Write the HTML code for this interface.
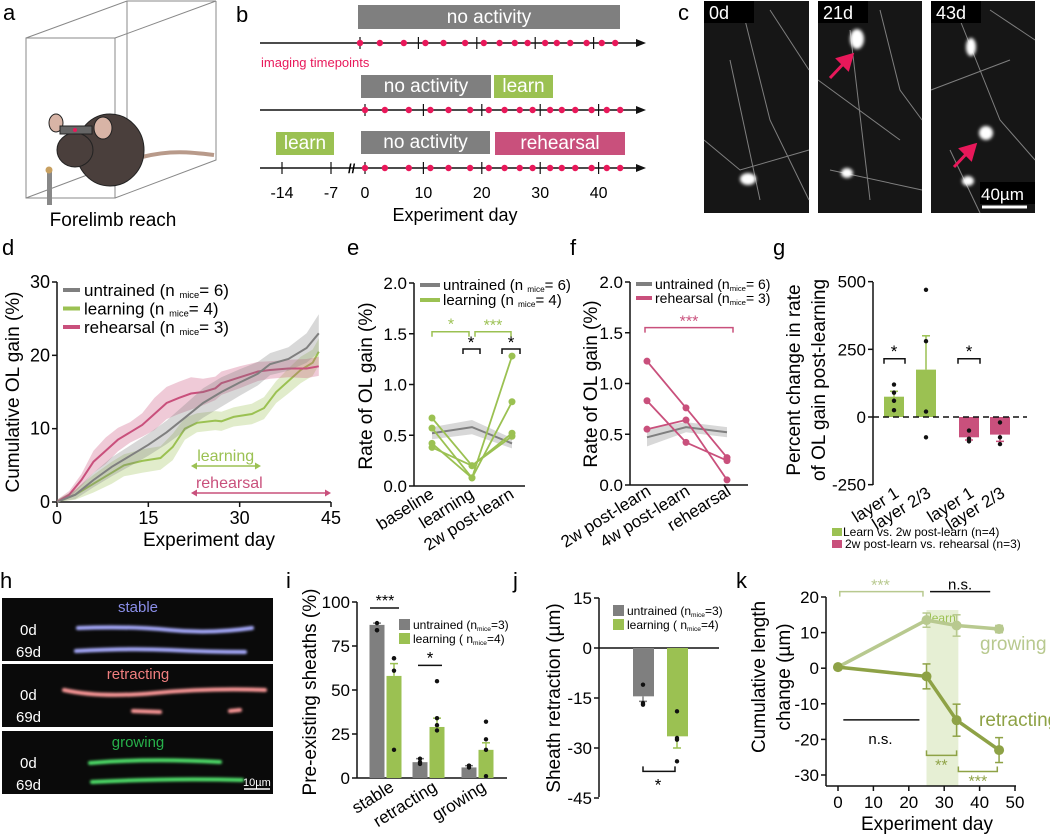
<!DOCTYPE html>
<html><head><meta charset="utf-8"><style>
html,body{margin:0;padding:0;background:#fff;}
svg{display:block;font-family:"Liberation Sans",sans-serif;}
</style></head><body>
<svg id="fig" width="1050" height="835" viewBox="0 0 1050 835" xmlns="http://www.w3.org/2000/svg">
<defs>
<filter id="glow" x="-20%" y="-50%" width="140%" height="200%"><feGaussianBlur stdDeviation="1.2"/></filter>
<filter id="soft" x="-50%" y="-50%" width="200%" height="200%"><feGaussianBlur stdDeviation="1.5"/></filter>
</defs>
<!-- panel a -->
<g>
<text x="3" y="20" font-size="22">a</text>
<g fill="none" stroke="#888" stroke-width="1">
<rect x="26" y="38" width="89" height="160"/>
<polyline points="26,38 127,1 216,1 115,38"/>
<line x1="127" y1="1" x2="127" y2="160"/>
<polyline points="216,1 216,160 115,198"/>
<line x1="26" y1="198" x2="127" y2="160"/>
</g>
<path d="M142,157 C170,150 190,152 214,155" stroke="#b89a8a" stroke-width="4" fill="none"/>
<ellipse cx="110" cy="150" rx="34" ry="36" fill="#4a3f3c" stroke="#222"/>
<ellipse cx="75" cy="150" rx="18" ry="17" fill="#4a3f3c" stroke="#222"/>
<ellipse cx="56" cy="123" rx="7" ry="9" fill="#d8b4a6" stroke="#222"/>
<ellipse cx="103" cy="128" rx="9" ry="11" fill="#d8b4a6" stroke="#222"/>
<rect x="60" y="126" width="32" height="8" fill="#666" stroke="#222"/>
<circle cx="75" cy="130" r="2" fill="#e8185a"/>
<rect x="47" y="171" width="5" height="34" fill="#888"/>
<circle cx="49" cy="170" r="3.5" fill="#c8a060"/>
<text x="113" y="226" font-size="19" text-anchor="middle">Forelimb reach</text>
</g>
<!-- panel c -->
<g>
<text x="678" y="20" font-size="22">c</text>
<rect x="704" y="1" width="105" height="212" fill="#161616"/>
<rect x="818" y="1" width="104" height="212" fill="#161616"/>
<rect x="931" y="1" width="104" height="212" fill="#161616"/>
<g stroke="#9a9a9a" stroke-width="1" fill="none" opacity="0.8">
<path d="M745,20 L770,120 L809,200"/><path d="M704,140 L740,170 L809,150"/><path d="M730,60 L760,200"/><path d="M770,10 L809,70"/>
<path d="M850,30 L870,200"/><path d="M818,80 L900,140"/><path d="M880,10 L900,90 L922,120"/><path d="M830,170 L922,190"/>
<path d="M960,20 L1000,120 L1035,160"/><path d="M931,90 L1010,60"/><path d="M950,150 L980,213"/><path d="M990,10 L1035,40"/>
</g>
<g fill="#fff" filter="url(#soft)">
<ellipse cx="748" cy="179" rx="8" ry="6"/>
<ellipse cx="857" cy="39" rx="7" ry="10"/>
<ellipse cx="847" cy="173" rx="6" ry="5"/>
<ellipse cx="971" cy="47" rx="5" ry="9"/>
<ellipse cx="986" cy="133" rx="7" ry="7"/>
<ellipse cx="968" cy="181" rx="6" ry="5"/>
</g>
<rect x="704" y="1" width="50" height="22" fill="#000"/>
<text x="709" y="19" font-size="18" fill="#fff">0d</text>
<rect x="818" y="1" width="50" height="22" fill="#000"/>
<text x="823" y="19" font-size="18" fill="#fff">21d</text>
<rect x="931" y="1" width="50" height="22" fill="#000"/>
<text x="936" y="19" font-size="18" fill="#fff">43d</text>
<g stroke="#e8185a" stroke-width="3" fill="#e8185a">
<line x1="830" y1="78" x2="847" y2="60"/>
<polygon points="852,55 838,59 848,69"/>
<line x1="954" y1="167" x2="970" y2="150"/>
<polygon points="975,145 961,149 971,159"/>
</g>
<rect x="980" y="182" width="55" height="22" fill="#000"/>
<text x="981" y="200" font-size="17" fill="#fff">40µm</text>
<line x1="982" y1="207" x2="1027" y2="207" stroke="#fff" stroke-width="3"/>
</g>
<!-- panel h -->
<g>
<text x="0" y="588" font-size="22">h</text>
<rect x="2" y="598" width="271" height="63" fill="#0a0a0a"/>
<rect x="2" y="664" width="271" height="63" fill="#0a0a0a"/>
<rect x="2" y="731" width="271" height="63" fill="#0a0a0a"/>
<text x="138" y="612" font-size="15" fill="#8a8ee8" text-anchor="middle">stable</text>
<text x="138" y="679" font-size="15" fill="#f07f7f" text-anchor="middle">retracting</text>
<text x="138" y="747" font-size="15" fill="#27b04a" text-anchor="middle">growing</text>
<g font-size="15" fill="#fff">
<text x="20" y="635">0d</text><text x="16" y="657">69d</text>
<text x="20" y="700">0d</text><text x="16" y="722">69d</text>
<text x="20" y="768">0d</text><text x="16" y="790">69d</text>
</g>
<g fill="none" stroke-width="4" stroke-linecap="round" filter="url(#glow)">
<path d="M78,628 Q130,626 170,630 T252,628" stroke="#a8acff"/>
<path d="M76,651 Q130,648 170,650 T245,652" stroke="#a8acff"/>
<path d="M64,690 Q100,698 155,693 T265,690" stroke="#ff9a9a"/>
<path d="M133,711 L160,712" stroke="#ff9a9a"/>
<path d="M230,711 L240,710" stroke="#ff9a9a"/>
<path d="M90,763 Q150,758 220,762" stroke="#4fe06a"/>
<path d="M92,782 Q170,778 242,780" stroke="#4fe06a"/>
</g>
<text x="243" y="786" font-size="11" fill="#fff">10µm</text>
<line x1="244" y1="789" x2="270" y2="789" stroke="#fff" stroke-width="1.5"/>
</g>
</svg>
<script>
const NS="http://www.w3.org/2000/svg";
const svg=document.getElementById('fig');
// ---------- data ----------
const bDots=[0,3.4,7.5,11.2,14.3,18,21.2,23.9,26.5,28.7,31.7,33.7,36,38.8,41.4,43.7];
const bTickDays=[0,10,20,30,40];
const bPreDays=[-14,-7];
const dGrayDays=[0,3,6,9,12,15,18,21,24,27,30,33,35,38,41,43];
const dGray=[0,1,3,4.8,6.3,7.8,9.5,11.5,13.5,15,16.3,17.5,18.8,19.5,21,23];
const dGrayErr=[0.3,0.6,1,1.3,1.4,1.5,1.6,1.8,2,2,1.8,1.6,1.5,1.6,2,2.6];
const dGreenDays=[0,3,6,9,11,14,17,19,21,23,26,27,29,32,34,36,38,40,42,43];
const dGreen=[0,1,2.5,4,5,5.6,6,7.5,10,10.8,11.1,11,11.6,12,12.8,15,16.5,18,19,20.5];
const dGreenErr=[0.3,0.7,1.2,1.5,1.5,1.6,1.6,1.8,1.5,1.3,1.3,1.3,1.3,1.4,1.5,1.5,1.7,1.8,1.8,1.8];
const dPinkDays=[0,2,4,6,8,10,12,14,16,18,20,22,24,26,27,30,33,35,38,41,43];
const dPink=[0,1,3,5.5,7,8.5,9.5,10.5,12,13.5,14.2,14.8,15,15.5,16.2,17,17.8,18,18.2,18.2,18.5];
const dPinkErr=[0.3,0.5,0.8,1.5,1.8,1.6,1.4,1.6,2.2,2.2,2.2,2.2,1.8,1.6,1.6,1.5,1.3,1.2,1.2,1.3,1.3];
const dTicksX=[0,15,30,45];
const dTicksY=[0,10,20,30];
const eCats=['baseline','learning','2w post-learn'];
const eGray=[0.52,0.58,0.42];
const eGrayErr=[0.06,0.07,0.05];
const eMice=[[0.67,0.20,0.49],[0.57,0.08,1.28],[0.42,0.08,0.83],[0.38,0.20,0.52]];
const eTicksY=[0,0.5,1.0,1.5,2.0];
const fCats=['2w post-learn','4w post-learn','rehearsal'];
const fGray=[0.47,0.57,0.52];
const fGrayErr=[0.09,0.05,0.05];
const fMice=[[1.22,0.76,0.27],[0.83,0.42,0.24],[0.55,0.64,0.05]];
const gCats=['layer 1','layer 2/3','layer 1','layer 2/3'];
const gMeans=[75,175,-75,-65];
const gErr=[20,125,10,25];
const gDots=[[120,90,60,25],[470,280,20,-75],[-50,-80,-90],[-20,-75,-100]];
const gTicksY=[-250,0,250,500];
const iCats=['stable','retracting','growing'];
const iGray=[87,9,6];
const iGrayErr=[1,2,1];
const iGreen=[58,29,16];
const iGreenErr=[7,5,4];
const iGrayDots=[[88,84,84],[11,9,8],[7,7,6]];
const iGreenDots=[[68,68,61,16],[55,34,30,27],[32,22,16,1]];
const iTicksY=[0,25,50,75,100];
const jMeans=[-14.5,-26.5];
const jErr=[1.5,3.5];
const jGrayDots=[-11,-16.5,-17];
const jGreenDots=[-19,-27,-27.5,-34];
const jTicksY=[-45,-30,-15,0,15];
const kDays=[0,25,33.5,45.5];
const kGrow=[0.3,13.5,12,11];
const kGrowErr=[0.5,2,3,1];
const kRetr=[0.3,-2.3,-14.6,-23];
const kRetrErr=[0.5,3.5,4.5,3.5];
const kTicksX=[0,10,20,30,40,50];
const kTicksY=[-30,-20,-10,0,10,20];

const GRAY='#7f7f7f', GREEN='#9bc152', PINK='#c9507c', DOT='#e8185a', KG='#b8c98f', KR='#8ea246';

function add(tag,attrs,name,parent){
  const el=document.createElementNS(NS,tag);
  for(const k in attrs) el.setAttribute(k,attrs[k]);
  
  
  (parent||svg).appendChild(el);
  return el;
}
function line(x1,y1,x2,y2,stroke,w,name,extra){
  const a={x1,y1,x2,y2,stroke,'stroke-width':w};
  if(extra) for(const k in extra) a[k]=extra[k];
  return add('line',a,name);
}
function txt(x,y,s,size,name,opts){
  const a={x,y,'font-size':size};
  if(opts) for(const k in opts) a[k]=opts[k];
  const t=add('text',a,name);
  t.textContent=s;
  return t;
}
function rich(x,y,parts,size,name,opts){
  const a={x,y,'font-size':size};
  if(opts) for(const k in opts) a[k]=opts[k];
  const t=add('text',a,name);
  parts.forEach(p=>{
    const s=document.createElementNS(NS,'tspan');
    s.textContent=p[0];
    if(p[1]){s.setAttribute('font-size',size*0.55);s.setAttribute('dy','2');}
    else if(p[2]){s.setAttribute('dy','-2');}
    t.appendChild(s);
  });
  return t;
}
function path(pts){return pts.map((p,i)=>(i?'L':'M')+p[0].toFixed(1)+','+p[1].toFixed(1)).join(' ');}
function bracket(x1,x2,y,col,dir,name){
  const d=dir||1;
  add('path',{d:`M${x1},${y+5*d} L${x1},${y} L${x2},${y} L${x2},${y+5*d}`,fill:'none',stroke:col,'stroke-width':1.5},name);
}
function errbar(x,y0,y1,col,name){
  line(x,y0,x,y1,col,1.5,name);
  line(x-4,y1,x+4,y1,col,1.5,name+'-cap');
}

// ---------- panel b ----------
txt(236,22,'b',22,'panel-label-b');
const bRows=[{y:43,x0:360},{y:110,x0:365},{y:168,x0:365}];
const bScale=5.84;
bRows.forEach((r,ri)=>{
  line(260,r.y,640,r.y,'#111',1.5,'timeline-'+(ri+1));
  add('polygon',{points:`646,${r.y} 636,${r.y-4} 636,${r.y+4}`,fill:'#111'},'timeline-arrow-'+(ri+1));
  bTickDays.forEach(d=>line(r.x0+d*bScale,r.y-6,r.x0+d*bScale,r.y+6,'#111',1.2,'timeline-tick'));
  bDots.forEach(d=>add('circle',{cx:r.x0+d*bScale,cy:r.y,r:3.2,fill:DOT},'imaging-timepoint'));
});
bPreDays.forEach(d=>line(365+(d<-10?-83:-34),168-6,365+(d<-10?-83:-34),168+6,'#111',1.2,'timeline-pre-tick'));
txt(348,173,'//',13,'timeline-break',{'font-weight':'bold'});
function bbox(x,y,w,h,fill,label,name){
  add('rect',{x,y,width:w,height:h,fill},name);
  txt(x+w/2,y+h-6,label,19,name+'-label',{'text-anchor':'middle',fill:'#fff'});
}
bbox(358,5,262,24,GRAY,'no activity','no-activity-box-1');
bbox(361,75,130,23,GRAY,'no activity','no-activity-box-2');
bbox(494,75,59,23,GREEN,'learn','learn-box-2');
bbox(276,132,58,23,GREEN,'learn','learn-box-3');
bbox(361,131,129,23,GRAY,'no activity','no-activity-box-3');
bbox(495,132,130,23,PINK,'rehearsal','rehearsal-box-3');
txt(261,67,'imaging timepoints',13,'imaging-timepoints-label',{fill:DOT});
[[-14,282],[-7,331]].concat(bTickDays.map(d=>[d,365+d*bScale])).forEach(p=>txt(p[1],198,String(p[0]),16,'timeline-tick-label',{'text-anchor':'middle'}));
txt(455,221,'Experiment day',18,'timeline-x-title',{'text-anchor':'middle'});

// ---------- panel d ----------
txt(2,255,'d',22,'panel-label-d');
const xd=v=>57+v/45*274, yd=v=>502-v/30*220;
line(57,282,57,502,'#111',1.5,'d-y-axis');
line(57,502,331,502,'#111',1.5,'d-x-axis');
dTicksY.forEach(v=>{line(52,yd(v),57,yd(v),'#111',1.5,'d-y-tick');txt(50,yd(v)+6,String(v),18,'d-y-tick-label',{'text-anchor':'end'});});
dTicksX.forEach(v=>{line(xd(v),502,xd(v),507,'#111',1.5,'d-x-tick');txt(xd(v),524,String(v),18,'d-x-tick-label',{'text-anchor':'middle'});});
txt(0,0,'Cumulative OL gain (%)',19,'d-y-title',{'text-anchor':'middle',transform:'translate(19,392) rotate(-90)'});
txt(209,546,'Experiment day',19,'d-x-title',{'text-anchor':'middle'});
function series(days,vals,errs,col,name){
  const up=days.map((d,i)=>[xd(d),yd(vals[i]+errs[i])]);
  const lo=days.map((d,i)=>[xd(d),yd(Math.max(0,vals[i]-errs[i]))]).reverse();
  add('path',{d:path(up.concat(lo))+'Z',fill:col,opacity:0.3},name+'-band');
  add('path',{d:path(days.map((d,i)=>[xd(d),yd(vals[i])])),fill:'none',stroke:col,'stroke-width':2},name+'-line');
}
series(dGreenDays,dGreen,dGreenErr,GREEN,'d-learning');
series(dPinkDays,dPink,dPinkErr,PINK,'d-rehearsal');
series(dGrayDays,dGray,dGrayErr,GRAY,'d-untrained');
[['untrained (n ','6',GRAY],['learning (n ','4',GREEN],['rehearsal (n ','3',PINK]].forEach((l,i)=>{
  const y=290+i*18.5;
  line(63,y,80,y,l[2],4,'d-legend-swatch');
  rich(84,y+6,[[l[0]],['mice',1],['= '+l[1]+')',0,1]],17,'d-legend-entry');
});
function harrow(x1,x2,y,col,name){
  line(x1+3,y,x2-3,y,col,1.5,name);
  add('polygon',{points:`${x1},${y} ${x1+6},${y-3.5} ${x1+6},${y+3.5}`,fill:col},name+'-head-left');
  add('polygon',{points:`${x2},${y} ${x2-6},${y-3.5} ${x2-6},${y+3.5}`,fill:col},name+'-head-right');
}
harrow(xd(22),xd(33.5),466,GREEN,'d-learning-arrow');
txt(xd(27.7),461,'learning',16,'d-learning-label',{'text-anchor':'middle',fill:GREEN});
harrow(xd(22),xd(45),493,PINK,'d-rehearsal-arrow');
txt(xd(28.3),488,'rehearsal',16,'d-rehearsal-label',{'text-anchor':'middle',fill:PINK});

// ---------- panel e ----------
txt(347,255,'e',22,'panel-label-e');
const eX=[432,472,512], ye=v=>486-v/2*203;
line(414,283,414,486,'#111',1.5,'e-y-axis');
line(414,486,525,486,'#111',1.5,'e-x-axis');
eTicksY.forEach(v=>{line(409,ye(v),414,ye(v),'#111',1.5,'e-y-tick');txt(407,ye(v)+6,v.toFixed(1),17,'e-y-tick-label',{'text-anchor':'end'});});
eCats.forEach((c,i)=>txt(0,0,c,17,'e-x-tick-label',{'text-anchor':'end',transform:`translate(${eX[i]+3},${497}) rotate(-32)`}));
txt(0,0,'Rate of OL gain (%)',19,'e-y-title',{'text-anchor':'middle',transform:'translate(372,386) rotate(-90)'});
add('path',{d:path(eX.map((x,i)=>[x,ye(eGray[i]+eGrayErr[i])]).concat(eX.map((x,i)=>[x,ye(eGray[i]-eGrayErr[i])]).reverse()))+'Z',fill:GRAY,opacity:0.3},'e-untrained-band');
add('path',{d:path(eX.map((x,i)=>[x,ye(eGray[i])])),fill:'none',stroke:GRAY,'stroke-width':2},'e-untrained-line');
eMice.forEach(m=>{
  add('path',{d:path(eX.map((x,i)=>[x,ye(m[i])])),fill:'none',stroke:GREEN,'stroke-width':1.8},'e-mouse-line');
  m.forEach((v,i)=>add('circle',{cx:eX[i],cy:ye(v),r:3.5,fill:GREEN},'e-mouse-point'));
});
bracket(432,469,ye(1.52),GREEN,1,'e-sig-bracket-1');
txt(451,ye(1.52)-2,'*',16,'e-sig-1',{'text-anchor':'middle',fill:GREEN});
bracket(475,511,ye(1.52),GREEN,1,'e-sig-bracket-2');
txt(493,ye(1.52)-1,'***',16,'e-sig-2',{'text-anchor':'middle',fill:GREEN});
bracket(463,480,ye(1.35),'#111',1,'e-sig-bracket-3');
txt(471,ye(1.35)-1,'*',17,'e-sig-3',{'text-anchor':'middle'});
bracket(502,520,ye(1.35),'#111',1,'e-sig-bracket-4');
txt(511,ye(1.35)-1,'*',17,'e-sig-4',{'text-anchor':'middle'});
[['untrained (n ','6',GRAY],['learning (n ','4',GREEN]].forEach((l,i)=>{
  const y=285+i*15;
  line(420,y,440,y,l[2],4,'e-legend-swatch');
  rich(443,y+5,[[l[0]],['mice',1],['= '+l[1]+')',0,1]],15,'e-legend-entry');
});

// ---------- panel f ----------
txt(570,255,'f',22,'panel-label-f');
const fX=[647,686,727], yf=v=>485-v/2*203;
line(630,282,630,485,'#111',1.5,'f-y-axis');
line(630,485,748,485,'#111',1.5,'f-x-axis');
eTicksY.forEach(v=>{line(625,yf(v),630,yf(v),'#111',1.5,'f-y-tick');txt(623,yf(v)+6,v.toFixed(1),17,'f-y-tick-label',{'text-anchor':'end'});});
fCats.forEach((c,i)=>txt(0,0,c,17,'f-x-tick-label',{'text-anchor':'end',transform:`translate(${fX[i]+5},${494}) rotate(-32)`}));
txt(0,0,'Rate of OL gain (%)',19,'f-y-title',{'text-anchor':'middle',transform:'translate(597,384) rotate(-90)'});
add('path',{d:path(fX.map((x,i)=>[x,yf(fGray[i]+fGrayErr[i])]).concat(fX.map((x,i)=>[x,yf(fGray[i]-fGrayErr[i])]).reverse()))+'Z',fill:GRAY,opacity:0.3},'f-untrained-band');
add('path',{d:path(fX.map((x,i)=>[x,yf(fGray[i])])),fill:'none',stroke:GRAY,'stroke-width':2},'f-untrained-line');
fMice.forEach(m=>{
  add('path',{d:path(fX.map((x,i)=>[x,yf(m[i])])),fill:'none',stroke:PINK,'stroke-width':1.8},'f-mouse-line');
  m.forEach((v,i)=>add('circle',{cx:fX[i],cy:yf(v),r:3.5,fill:PINK},'f-mouse-point'));
});
bracket(645,733,yf(1.55),PINK,1,'f-sig-bracket');
txt(689,yf(1.55)-1,'***',16,'f-sig',{'text-anchor':'middle',fill:PINK});
[['untrained (n','6',GRAY],['rehearsal (n','3',PINK]].forEach((l,i)=>{
  const y=284+i*14;
  line(636,y,652,y,l[2],4,'f-legend-swatch');
  rich(655,y+5,[[l[0]],['mice',1],['= '+l[1]+')',0,1]],14,'f-legend-entry');
});

// ---------- panel g ----------
txt(773,255,'g',22,'panel-label-g');
const gX=[894,926,969,1000], yg=v=>417-v*0.2707;
line(873,282,873,485,'#111',1.5,'g-y-axis');
gTicksY.forEach(v=>{line(868,yg(v),873,yg(v),'#111',1.5,'g-y-tick');txt(866,yg(v)+6,String(v),17,'g-y-tick-label',{'text-anchor':'end'});});
gMeans.forEach((m,i)=>{
  const col=i<2?GREEN:PINK;
  add('rect',{x:gX[i]-10,y:Math.min(yg(0),yg(m)),width:20,height:Math.abs(yg(m)-yg(0)),fill:col},'g-bar');
  errbar(gX[i],yg(m),yg(m+Math.sign(m)*gErr[i]),col,'g-errorbar');
  gDots[i].forEach(v=>add('circle',{cx:gX[i],cy:yg(v),r:2.2,fill:'#111'},'g-dot'));
});
line(873,yg(0),1027,yg(0),'#111',1.5,'g-zero-line',{'stroke-dasharray':'6,4'});
gCats.forEach((c,i)=>txt(0,0,c,17,'g-x-tick-label',{'text-anchor':'end',transform:`translate(${gX[i]+6},${496}) rotate(-32)`}));
bracket(884,905,yg(215),'#111',1,'g-sig-bracket-1');
txt(894,yg(215)-2,'*',17,'g-sig-1',{'text-anchor':'middle'});
bracket(958,980,yg(215),'#111',1,'g-sig-bracket-2');
txt(969,yg(215)-2,'*',17,'g-sig-2',{'text-anchor':'middle'});
txt(0,0,'Percent change in rate',19,'g-y-title-1',{'text-anchor':'middle',transform:'translate(800,380) rotate(-90)'});
txt(0,0,'of OL gain post-learning',19,'g-y-title-2',{'text-anchor':'middle',transform:'translate(825,380) rotate(-90)'});
add('rect',{x:832,y:528,width:10,height:8,fill:GREEN},'g-legend-swatch-learn');
txt(843,536,'Learn vs. 2w post-learn (n=4)',12,'g-legend-learn');
add('rect',{x:832,y:540,width:10,height:8,fill:PINK},'g-legend-swatch-rehearsal');
txt(845,548,'2w post-learn vs. rehearsal (n=3)',12,'g-legend-rehearsal');

// ---------- panel i ----------
txt(286,588,'i',22,'panel-label-i');
const iAx=357;
const iX=[377,420,469], yi=v=>778-v/100*176;
line(iAx,602,iAx,778,'#111',1.5,'i-y-axis');
line(iAx,778,507,778,'#111',1.5,'i-x-axis');
iTicksY.forEach(v=>{line(iAx-5,yi(v),iAx,yi(v),'#111',1.5,'i-y-tick');txt(iAx-7,yi(v)+6,String(v),17,'i-y-tick-label',{'text-anchor':'end'});});
iCats.forEach((c,i)=>{
  add('rect',{x:iX[i]-7.5,y:yi(iGray[i]),width:15,height:yi(0)-yi(iGray[i]),fill:GRAY},'i-bar-untrained');
  errbar(iX[i],yi(iGray[i]),yi(iGray[i]+iGrayErr[i]),GRAY,'i-err-untrained');
  iGrayDots[i].forEach(v=>add('circle',{cx:iX[i],cy:yi(v),r:2.2,fill:'#111'},'i-dot-untrained'));
  const gx=iX[i]+17;
  add('rect',{x:gx-7.5,y:yi(iGreen[i]),width:15,height:yi(0)-yi(iGreen[i]),fill:GREEN},'i-bar-learning');
  errbar(gx,yi(iGreen[i]),yi(iGreen[i]+iGreenErr[i]),GREEN,'i-err-learning');
  iGreenDots[i].forEach(v=>add('circle',{cx:gx,cy:yi(v),r:2.2,fill:'#111'},'i-dot-learning'));
  txt(0,0,c,17,'i-x-tick-label',{'text-anchor':'end',transform:`translate(${iX[i]+18},${790}) rotate(-32)`});
});
line(370,yi(96.6),399,yi(96.6),'#111',1.5,'i-sig-line-1');
txt(385,yi(96.6)-2,'***',16,'i-sig-1',{'text-anchor':'middle'});
line(418,yi(64),442,yi(64),'#111',1.5,'i-sig-line-2');
txt(430,yi(64)-2,'*',17,'i-sig-2',{'text-anchor':'middle'});
txt(0,0,'Pre-existing sheaths (%)',19,'i-y-title',{'text-anchor':'middle',transform:'translate(316,692) rotate(-90)'});
add('rect',{x:399,y:619,width:11,height:11,fill:GRAY},'i-legend-swatch-untrained');
rich(413,629,[['untrained (n'],['mice',1],['=3)',0,1]],12,'i-legend-untrained');
add('rect',{x:399,y:633,width:11,height:11,fill:GREEN},'i-legend-swatch-learning');
rich(413,643,[['learning ( n'],['mice',1],['=4)',0,1]],12,'i-legend-learning');

// ---------- panel j ----------
txt(513,588,'j',22,'panel-label-j');
const jAx=599;
const jX=[643,677], yj=v=>648-v/15*50;
line(jAx,598,jAx,797,'#111',1.5,'j-y-axis');
line(jAx,yj(0),719,yj(0),'#111',1.5,'j-zero-line');
jTicksY.forEach(v=>{line(jAx-5,yj(v),jAx,yj(v),'#111',1.5,'j-y-tick');txt(jAx-7,yj(v)+6,String(v),17,'j-y-tick-label',{'text-anchor':'end'});});
[[GRAY,jGrayDots],[GREEN,jGreenDots]].forEach((s,i)=>{
  add('rect',{x:jX[i]-10,y:yj(0),width:21,height:yj(jMeans[i])-yj(0),fill:s[0]},'j-bar');
  errbar(jX[i],yj(jMeans[i]),yj(jMeans[i]-jErr[i]),s[0],'j-errorbar');
  s[1].forEach(v=>add('circle',{cx:jX[i],cy:yj(v),r:2.2,fill:'#111'},'j-dot'));
});
bracket(643,675,yj(-37),'#111',-1,'j-sig-bracket');
txt(658,yj(-37)+19,'*',17,'j-sig',{'text-anchor':'middle'});
txt(0,0,'Sheath retraction (µm)',19,'j-y-title',{'text-anchor':'middle',transform:'translate(560,698) rotate(-90)'});
add('rect',{x:613,y:605,width:11,height:11,fill:GRAY},'j-legend-swatch-untrained');
rich(627,615,[['untrained (n'],['mice',1],['=3)',0,1]],12,'j-legend-untrained');
add('rect',{x:613,y:619,width:11,height:11,fill:GREEN},'j-legend-swatch-learning');
rich(627,629,[['learning ( n'],['mice',1],['=4)',0,1]],12,'j-legend-learning');

// ---------- panel k ----------
txt(736,588,'k',22,'panel-label-k');
const xk=v=>838+v/50*177, yk=v=>597+(20-v)/50*178;
add('rect',{x:xk(25),y:610,width:xk(34)-xk(25),height:yk(-33)-610,fill:GREEN,opacity:0.25},'k-learn-shade');
txt(xk(29.5),622,'learn',12,'k-learn-label',{'text-anchor':'middle',fill:GREEN});
line(826,597,826,786,'#111',1.5,'k-y-axis');
line(826,786,1016,786,'#111',1.5,'k-x-axis');
kTicksY.forEach(v=>{line(821,yk(v),826,yk(v),'#111',1.5,'k-y-tick');txt(819,yk(v)+6,String(v),17,'k-y-tick-label',{'text-anchor':'end'});});
kTicksX.forEach(v=>{line(xk(v),786,xk(v),791,'#111',1.5,'k-x-tick');txt(xk(v),808,String(v),17,'k-x-tick-label',{'text-anchor':'middle'});});
txt(927,830,'Experiment day',19,'k-x-title',{'text-anchor':'middle'});
txt(0,0,'Cumulative length',19,'k-y-title-1',{'text-anchor':'middle',transform:'translate(765,677) rotate(-90)'});
txt(0,0,'change (µm)',19,'k-y-title-2',{'text-anchor':'middle',transform:'translate(790,677) rotate(-90)'});
[[kGrow,kGrowErr,KG,'growing'],[kRetr,kRetrErr,KR,'retracting']].forEach(s=>{
  add('path',{d:path(kDays.map((d,i)=>[xk(d),yk(s[0][i])])),fill:'none',stroke:s[2],'stroke-width':3.5},'k-'+s[3]+'-line');
  kDays.forEach((d,i)=>{
    line(xk(d),yk(s[0][i]-s[1][i]),xk(d),yk(s[0][i]+s[1][i]),s[2],1.5,'k-'+s[3]+'-errorbar');
    line(xk(d)-4,yk(s[0][i]-s[1][i]),xk(d)+4,yk(s[0][i]-s[1][i]),s[2],1.5,'k-'+s[3]+'-errcap');
    line(xk(d)-4,yk(s[0][i]+s[1][i]),xk(d)+4,yk(s[0][i]+s[1][i]),s[2],1.5,'k-'+s[3]+'-errcap');
    add('circle',{cx:xk(d),cy:yk(s[0][i]),r:5,fill:s[2]},'k-'+s[3]+'-point');
  });
});
txt(980,650,'growing',19,'k-growing-label',{fill:KG});
txt(979,726,'retracting',19,'k-retracting-label',{fill:KR});
bracket(xk(0.5),xk(24),yk(21.5),KG,1,'k-sig-bracket-1');
txt(xk(12),yk(21.5)-1,'***',16,'k-sig-1',{'text-anchor':'middle',fill:KG});
line(xk(26),yk(21.5),xk(43),yk(21.5),'#111',1.5,'k-ns-line-1');
txt(xk(34.5),yk(21.5)-2,'n.s.',15,'k-ns-1',{'text-anchor':'middle'});
line(xk(1.5),yk(-14.5),xk(23),yk(-14.5),'#111',1.5,'k-ns-line-2');
txt(xk(12),yk(-14.5)+24,'n.s.',15,'k-ns-2',{'text-anchor':'middle'});
bracket(xk(25),xk(33.5),yk(-24.5),KR,-1,'k-sig-bracket-2');
txt(xk(29.2),yk(-24.5)+15,'**',16,'k-sig-2',{'text-anchor':'middle',fill:KR});
bracket(xk(34),xk(45),yk(-29),KR,-1,'k-sig-bracket-3');
txt(xk(39.5),yk(-29)+15,'***',16,'k-sig-3',{'text-anchor':'middle',fill:KR});
</script>
</body></html>
